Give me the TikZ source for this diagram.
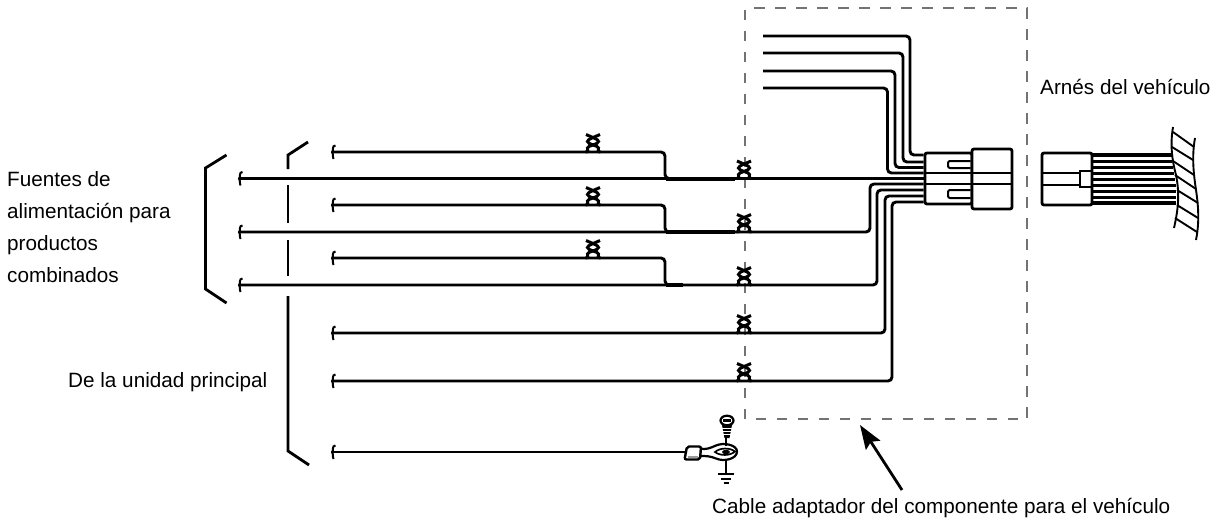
\documentclass[tikz,border=0pt]{standalone}
\usepackage{fontspec}
\setmainfont{Liberation Sans}
\usetikzlibrary{arrows.meta}
\tikzset{
  wire/.style={line width=2.9pt,rounded corners=4pt},
  thickwire/.style={line width=4pt},
  thinline/.style={line width=2pt},
  housing/.style={draw,fill=white,line width=2.8pt,rounded corners=2pt,inner sep=0pt},
  bracketline/.style={line width=2.8pt},
  label/.style={anchor=base west,inner sep=0pt,font=\fontsize{20.7}{24}\selectfont},
  dashbox/.style={draw=black!55,line width=1.4pt,dash pattern=on 10.5pt off 10.5pt},
  twist/.pic={
    \draw[line width=3pt] (-7.5,0) .. controls (-4,0) and (-5.5,-2) .. (-5.5,-4)
       .. controls (-5.5,-6.5) and (5.5,-7.5) .. (5.5,-10.5)
       .. controls (5.5,-13) and (-2,-15) .. (-7,-17.5);
    \draw[line width=3pt] (7.5,0) .. controls (4,0) and (5.5,-2) .. (5.5,-4)
       .. controls (5.5,-6.5) and (-5.5,-7.5) .. (-5.5,-10.5)
       .. controls (-5.5,-13) and (2,-15) .. (7,-17.5);
  },
  hook/.pic={
    \draw[line width=2pt] (2.5,-6.5) .. controls (-1.5,-6.5) and (1,-1.5) .. (-1,0)
       .. controls (1,1.5) and (-1,3) .. (0.5,7);
  }
}
\begin{document}
\begin{tikzpicture}[x=1pt,y=-1pt]
\useasboundingbox (0,0) rectangle (1223,520);
% dashed adapter outline
\draw[dashbox] (745,419) -- (745,8) -- (1027,8) -- (1027,419) -- cycle;

% ----- wire free ends
\coordinate (m1) at (240,178.5);
\coordinate (m2) at (240,232);
\coordinate (m3) at (240,285);
\coordinate (b1) at (333,152);
\coordinate (b2) at (333,205);
\coordinate (b3) at (333,258);
\coordinate (m4) at (333,333);
\coordinate (m5) at (333,381);
\coordinate (g) at (333,452);
\coordinate (t1) at (763,36);
\coordinate (t2) at (763,53);
\coordinate (t3) at (763,71);
\coordinate (t4) at (763,88);

% ----- adapter connector housings
\node[housing,minimum width=47pt,minimum height=51pt] (plugL) at (948.5,178.5) {};
\node[housing,minimum width=40pt,minimum height=60pt] (plugR) at (992,179) {};
\node[housing,minimum width=50pt,minimum height=52pt] (harness) at (1067,179) {};

% connector details
\draw[thinline] (plugL.west |- 0,173) -- (plugR.east |- 0,173);
\draw[thinline] (plugL.west |- 0,184) -- (plugR.east |- 0,184);
\draw[thinline,rounded corners=2pt] (plugR.west |- 0,161) -- (948,161) -- (948,168) -- (plugR.west |- 0,168);
\draw[thinline,rounded corners=2pt] (plugR.west |- 0,190) -- (948,190) -- (948,198) -- (plugR.west |- 0,198);
\draw[thinline] (harness.west |- 0,173) -- (1080,173);
\draw[thinline] (harness.west |- 0,185) -- (1080,185);
\draw[thinline,line width=2.4pt] (harness.east |- 0,171) -- (1080,171) -- (1080,187) -- (harness.east |- 0,187);

% ----- top wires
\draw[wire] (t1) -- (910,36) -- (910,155) -- (plugL.west |- 0,155);
\draw[wire] (t2) -- (903,53) -- (903,162) -- (plugL.west |- 0,162);
\draw[wire] (t3) -- (895,71) -- (895,167.5) -- (plugL.west |- 0,167.5);
\draw[wire] (t4) -- (887.5,88) -- (887.5,173) -- (plugL.west |- 0,173);

% ----- main wires
\draw[wire] (m1) -- (plugL.west |- m1);
\draw[wire] (m2) -- (870,232) -- (870,184) -- (plugL.west |- 0,184);
\draw[wire] (m3) -- (877,285) -- (877,190) -- (plugL.west |- 0,190);
\draw[wire] (m4) -- (885,333) -- (885,196) -- (plugL.west |- 0,196);
\draw[wire] (m5) -- (892,381) -- (892,202) -- (plugL.west |- 0,202);

% ----- branches
\draw[wire] (b1) -- (665,152) -- (665,178.5) -- (670,178.5);
\draw[wire] (b2) -- (665,205) -- (665,232) -- (670,232);
\draw[wire] (b3) -- (665,258) -- (665,285) -- (670,285);
\draw[thickwire] (666,178.5) -- (735,178.5);
\draw[thickwire] (666,232) -- (735,232);
\draw[thickwire] (666,285) -- (683,285);

% ground wire
\draw[wire] (g) -- (686,452);

% hooks
\foreach \c in {m1,m2,m3,b1,b2,b3,m4,m5,g} { \pic at (\c) {hook}; }

% twists
\pic at (593,152) {twist};
\pic at (593,205) {twist};
\pic at (593,258) {twist};
\pic at (744,178.5) {twist};
\pic at (744,232) {twist};
\pic at (744,285) {twist};
\pic at (744,333) {twist};
\pic at (744,381) {twist};

% ----- harness wires
\foreach \y/\w/\e in {155/3.6/1172,161.5/2.6/1172,167.5/3/1173,173.5/3.2/1174,179.5/3.2/1175,185.5/2.6/1176,191.5/3.4/1176,197.5/2.6/1176,203/3.2/1176} {
  \draw[line width=\w pt] (harness.east |- 0,\y) -- (\e,\y);
}

% cut wall
\draw[line width=1.9pt] (1173,127) .. controls (1170,145) and (1172,160) .. (1176,175)
   .. controls (1180,195) and (1178,210) .. (1174,228);
\draw[line width=1.9pt] (1195,138) .. controls (1192,155) and (1193,170) .. (1196,190)
   .. controls (1199,210) and (1199,225) .. (1196,240);
\foreach \a/\b/\c/\d in {1173/132/1194/147, 1172/147/1193/160, 1173/161/1194/175, 1175/175/1196/189, 1177/190/1198/203, 1177/205/1198/218, 1175/218/1197/232} {
  \draw[line width=1.9pt] (\a,\b) -- (\c,\d);
}

% ----- brackets
\draw[bracketline] (226.5,155) -- (205.5,168) -- (205.5,289) -- (226.5,303);
\draw[bracketline] (308,142) -- (288,155) -- (288,169);
\draw[bracketline] (288,185) -- (288,223);
\draw[bracketline] (288,240) -- (288,276);
\draw[bracketline] (288,296) -- (288,451) -- (309,465);

% ----- ring terminal, screw, ground
\coordinate (ringc) at (726,452);
\draw[line width=2.2pt,fill=white] (700,448.5) .. controls (706,450) and (710,448) .. (716,445.5)
   .. controls (724,442) and (737,445) .. (737,451.5)
   .. controls (737,459) and (724,462) .. (716,458.5)
   .. controls (710,456) and (706,456) .. (700,456) -- cycle;
\draw[line width=2.4pt,fill=white,rounded corners=2pt] (693,446.5) -- (701,446.5) -- (700,459.5) -- (684.5,459.5) -- (687,446.5) -- cycle;
\fill[black!40] (688,455.5) rectangle (698,458);
\draw[line width=1.7pt] (715,452) .. controls (720,447.5) and (730,447.5) .. (735,451.5)
   .. controls (730,456) and (720,456) .. (715,452) -- cycle;
\fill (ringc) ellipse (4pt and 2.2pt);
\draw[line width=1.8pt] (ringc |- 0,436) -- (ringc |- 0,446);
\draw[line width=2.2pt,fill=white] (727,420.5) ellipse (6.5pt and 4.8pt);
\fill (723,419) rectangle (731,421.5);
\fill (722,425) -- (732,425) -- (729.5,438) -- (724.5,438) -- cycle;
\foreach \y in {428.5,431.5,434.5} { \draw[white,line width=0.8pt] (721,\y) -- (733,\y); }
\draw[line width=1.9pt] (ringc |- 0,459) -- (ringc |- 0,474);
\draw[line width=2pt] (718,474) -- (734,474);
\draw[line width=2pt] (721,478.5) -- (731,478.5);
\draw[line width=2.4pt] (723.5,483) -- (728.5,483);

% ----- arrow
\coordinate (atip) at (860,425);
\coordinate (atail) at (902,490);
\draw[line width=2.8pt,-{Stealth[length=24pt,width=17pt,inset=4pt]}] (atail) -- (atip);

% ----- labels
\node[label] (l1) at (1040,94) {Arnés del vehículo};
\node[label] (l2) at (7,186) {Fuentes de};
\node[label] (l3) at (7,218) {alimentación para};
\node[label] (l4) at (7,250) {productos};
\node[label] (l5) at (7,282) {combinados};
\node[label] (l6) at (68,387) {De la unidad principal};
\node[label] (l7) at (712,513) {Cable adaptador del componente para el vehículo};
\end{tikzpicture}
\end{document}
